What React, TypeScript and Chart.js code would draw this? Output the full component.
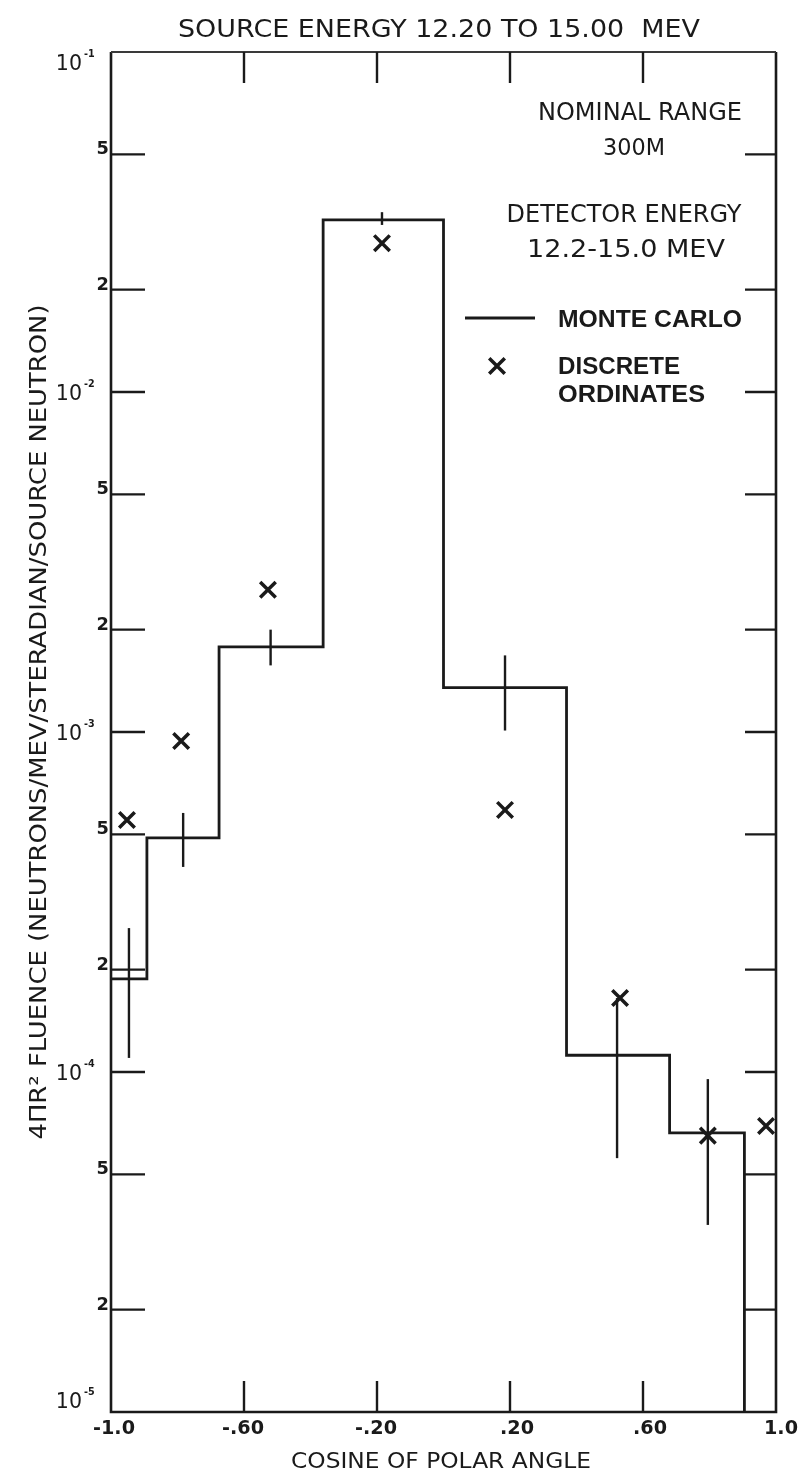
import { useEffect, useRef } from "react";
import { Chart, registerables } from "chart.js";

Chart.register(...registerables);

// Monte Carlo histogram: bin edges (cosine of polar angle) and fluence per bin
const binEdges = [-1.0, -0.892, -0.675, -0.362, 0.0, 0.37, 0.68, 0.905, 1.0];
const monteCarlo = [1.88e-4, 4.88e-4, 1.78e-3, 3.21e-2, 1.35e-3, 1.12e-4, 6.62e-5, 4e-6];

// Monte Carlo statistical error bars
const errorMu = [-0.946, -0.783, -0.52, -0.185, 0.185, 0.522, 0.795];
const errorHigh = [2.65e-4, 5.78e-4, 2.0e-3, 3.38e-2, 1.68e-3, 1.65e-4, 9.53e-5];
const errorLow = [1.1e-4, 4.01e-4, 1.57e-3, 3.1e-2, 1.01e-3, 5.58e-5, 3.55e-5];

// Discrete ordinates results
const ordinateMu = [-0.952, -0.789, -0.528, -0.185, 0.185, 0.531, 0.795, 0.97];
const discreteOrdinates = [5.51e-4, 9.41e-4, 2.62e-3, 2.74e-2, 5.9e-4, 1.65e-4, 6.5e-5, 6.94e-5];

// Axis ticks and labels
const xInnerTicks = [-0.6, -0.2, 0.2, 0.6];
const xLabelValues = [-1.0, -0.6, -0.2, 0.2, 0.6, 1.0];
const xLabels = ["-1.0", "-.60", "-.20", ".20", ".60", "1.0"];
const yDecades = [1e-1, 1e-2, 1e-3, 1e-4, 1e-5];
const yDecadeExponents = ["-1", "-2", "-3", "-4", "-5"];
const yMinorTicks = [5e-2, 2e-2, 5e-3, 2e-3, 5e-4, 2e-4, 5e-5, 2e-5];
const yMinorLabels = ["5", "2", "5", "2", "5", "2", "5", "2"];

const TITLE = "SOURCE ENERGY 12.20 TO 15.00  MEV";
const X_TITLE = "COSINE OF POLAR ANGLE";
const Y_TITLE = "4ΠR² FLUENCE (NEUTRONS/MEV/STERADIAN/SOURCE NEUTRON)";
const RANGE_LINES = ["NOMINAL RANGE", "300M"];
const DETECTOR_LINES = ["DETECTOR ENERGY", "12.2-15.0 MEV"];
const LEGEND_MC = "MONTE CARLO";
const LEGEND_DO = ["DISCRETE", "ORDINATES"];

const INK = "#1a1a1a";
const PLOT_FONT = '"DejaVu Sans"';
const BOLD_FONT = '"Liberation Sans"';

// Draws text whose capitals span capTop..capTop+cap, optionally squeezed to a given width
function capText(
  ctx: CanvasRenderingContext2D,
  text: string,
  x: number,
  capTop: number,
  cap: number,
  opts: { width?: number; align?: "left" | "center" | "right"; weight?: string; family?: string } = {}
) {
  const family = opts.family ?? PLOT_FONT;
  const ratio = family === BOLD_FONT ? 0.716 : 0.729;
  const size = cap / ratio;
  ctx.save();
  ctx.font = `${opts.weight ?? "normal"} ${size}px ${family}`;
  const natural = ctx.measureText(text).width;
  const width = opts.width ?? natural;
  const align = opts.align ?? "center";
  const left = align === "left" ? x : align === "right" ? x - width : x - width / 2;
  ctx.translate(left, capTop + cap);
  ctx.scale(width / natural, 1);
  ctx.textAlign = "left";
  ctx.textBaseline = "alphabetic";
  ctx.fillStyle = INK;
  ctx.fillText(text, 0, 0);
  ctx.restore();
}

function drawX(ctx: CanvasRenderingContext2D, x: number, y: number, r: number, w: number) {
  const d = r * Math.SQRT1_2;
  ctx.save();
  ctx.strokeStyle = INK;
  ctx.lineWidth = w;
  ctx.beginPath();
  ctx.moveTo(x - d, y - d);
  ctx.lineTo(x + d, y + d);
  ctx.moveTo(x - d, y + d);
  ctx.lineTo(x + d, y - d);
  ctx.stroke();
  ctx.restore();
}

const paperPlugin = {
  id: "paper",
  beforeDraw(chart: Chart) {
    const ctx = chart.ctx;
    ctx.save();
    ctx.fillStyle = "#ffffff";
    ctx.fillRect(0, 0, chart.width, chart.height);
    ctx.restore();
  },
  afterDatasetsDraw(chart: Chart) {
    // Error bars on the Monte Carlo bins
    const ctx = chart.ctx;
    const xs = chart.scales.x;
    const ys = chart.scales.y;
    ctx.save();
    ctx.strokeStyle = INK;
    ctx.lineWidth = 2.4;
    errorMu.forEach((mu, i) => {
      const px = xs.getPixelForValue(mu);
      ctx.beginPath();
      ctx.moveTo(px, ys.getPixelForValue(errorHigh[i]));
      ctx.lineTo(px, ys.getPixelForValue(errorLow[i]));
      ctx.stroke();
    });
    ctx.restore();
  },
  afterDraw(chart: Chart) {
    const ctx = chart.ctx;
    const { left, right, top, bottom } = chart.chartArea;
    const xs = chart.scales.x;
    const ys = chart.scales.y;

    ctx.save();
    ctx.strokeStyle = INK;
    ctx.lineCap = "butt";

    // Frame
    ctx.lineWidth = 2.6;
    ctx.beginPath();
    ctx.moveTo(left, top);
    ctx.lineTo(left, bottom);
    ctx.lineTo(right, bottom);
    ctx.lineTo(right, top);
    ctx.stroke();
    ctx.lineWidth = 2.2;
    ctx.strokeStyle = "#3a3a3a";
    ctx.beginPath();
    ctx.moveTo(left, top);
    ctx.lineTo(right, top);
    ctx.stroke();
    ctx.strokeStyle = INK;

    // Inward tick marks on all four sides
    ctx.lineWidth = 2.4;
    xInnerTicks.forEach((v) => {
      const px = xs.getPixelForValue(v);
      ctx.beginPath();
      ctx.moveTo(px, top);
      ctx.lineTo(px, top + 31);
      ctx.moveTo(px, bottom);
      ctx.lineTo(px, bottom - 31);
      ctx.stroke();
    });
    [...yDecades.slice(1, -1), ...yMinorTicks].forEach((v) => {
      const py = ys.getPixelForValue(v);
      ctx.beginPath();
      ctx.moveTo(left, py);
      ctx.lineTo(left + 34, py);
      ctx.moveTo(right, py);
      ctx.lineTo(right - 31, py);
      ctx.stroke();
    });
    ctx.restore();

    // Y tick labels
    yDecades.forEach((v, i) => {
      let cy = ys.getPixelForValue(v);
      if (i === 0) cy += 10;
      if (i === yDecades.length - 1) cy -= 12;
      const cap = 15;
      capText(ctx, "10", left - 29, cy - cap / 2, cap, { align: "right" });
      capText(ctx, yDecadeExponents[i], left - 27, cy - cap / 2 - 5, 7, { align: "left", weight: "bold" });
    });
    yMinorTicks.forEach((v, i) => {
      const py = ys.getPixelForValue(v);
      capText(ctx, yMinorLabels[i], left - 2, py - 13, 13, { align: "right", weight: "bold" });
    });

    // X tick labels
    xLabelValues.forEach((v, i) => {
      const px = xs.getPixelForValue(v);
      const shift = xLabels[i].startsWith(".") ? 7 : i === 0 ? 3 : i === xLabels.length - 1 ? 5 : -1;
      capText(ctx, xLabels[i], px + shift, bottom + 8, 14, { align: "center", weight: "bold" });
    });

    // Titles
    capText(ctx, TITLE, 439, 19, 18, { width: 522 });
    capText(ctx, X_TITLE, 441, 1452, 16, { width: 300 });
    ctx.save();
    ctx.translate(37, 722);
    ctx.rotate(-Math.PI / 2);
    capText(ctx, Y_TITLE, 0, -8.5, 17, { width: 835 });
    ctx.restore();

    // Annotations
    capText(ctx, RANGE_LINES[0], 640, 102, 18, { width: 204 });
    capText(ctx, RANGE_LINES[1], 634, 138, 17, { width: 62 });
    capText(ctx, DETECTOR_LINES[0], 624, 204, 18, { width: 235 });
    capText(ctx, DETECTOR_LINES[1], 626, 239, 18, { width: 198 });

    // Legend
    ctx.save();
    ctx.strokeStyle = INK;
    ctx.lineWidth = 3;
    ctx.beginPath();
    ctx.moveTo(465, 318);
    ctx.lineTo(535, 318);
    ctx.stroke();
    ctx.restore();
    drawX(ctx, 497, 366, 11, 3.5);
    capText(ctx, LEGEND_MC, 558, 310, 17, { align: "left", width: 184, weight: "bold", family: BOLD_FONT });
    capText(ctx, LEGEND_DO[0], 558, 357, 17, { align: "left", width: 122, weight: "bold", family: BOLD_FONT });
    capText(ctx, LEGEND_DO[1], 558, 385, 17, { align: "left", width: 147, weight: "bold", family: BOLD_FONT });
  },
};

export default function App() {
  const ref = useRef<HTMLCanvasElement>(null);

  useEffect(() => {
    const canvas = ref.current;
    if (!canvas) return;
    const histogram = binEdges.map((edge, i) => ({
      x: edge,
      y: monteCarlo[Math.min(i, monteCarlo.length - 1)],
    }));
    const ordinates = ordinateMu.map((mu, i) => ({ x: mu, y: discreteOrdinates[i] }));

    const chart = new Chart(canvas, {
      type: "scatter",
      data: {
        datasets: [
          {
            type: "line",
            label: LEGEND_MC,
            data: histogram,
            stepped: true,
            borderColor: INK,
            borderWidth: 2.8,
            pointRadius: 0,
            fill: false,
            order: 2,
          },
          {
            type: "scatter",
            label: LEGEND_DO.join(" "),
            data: ordinates,
            pointStyle: "crossRot",
            pointRadius: 11,
            borderWidth: 3.5,
            borderColor: INK,
            backgroundColor: INK,
            order: 1,
          },
        ],
      },
      options: {
        responsive: false,
        animation: false,
        devicePixelRatio: 1,
        events: [],
        layout: { padding: { left: 111, right: 27, top: 52, bottom: 67 } },
        plugins: {
          legend: { display: false },
          tooltip: { enabled: false },
          title: { display: false },
        },
        scales: {
          x: { type: "linear", min: -1, max: 1, display: false },
          y: { type: "logarithmic", min: 1e-5, max: 1e-1, display: false },
        },
      },
      plugins: [paperPlugin],
    });
    return () => chart.destroy();
  }, []);

  return (
    <div style={{ position: "absolute", left: 0, top: 0, width: 803, height: 1479, background: "#fff" }}>
      <canvas ref={ref} width={803} height={1479} style={{ display: "block" }} />
    </div>
  );
}
